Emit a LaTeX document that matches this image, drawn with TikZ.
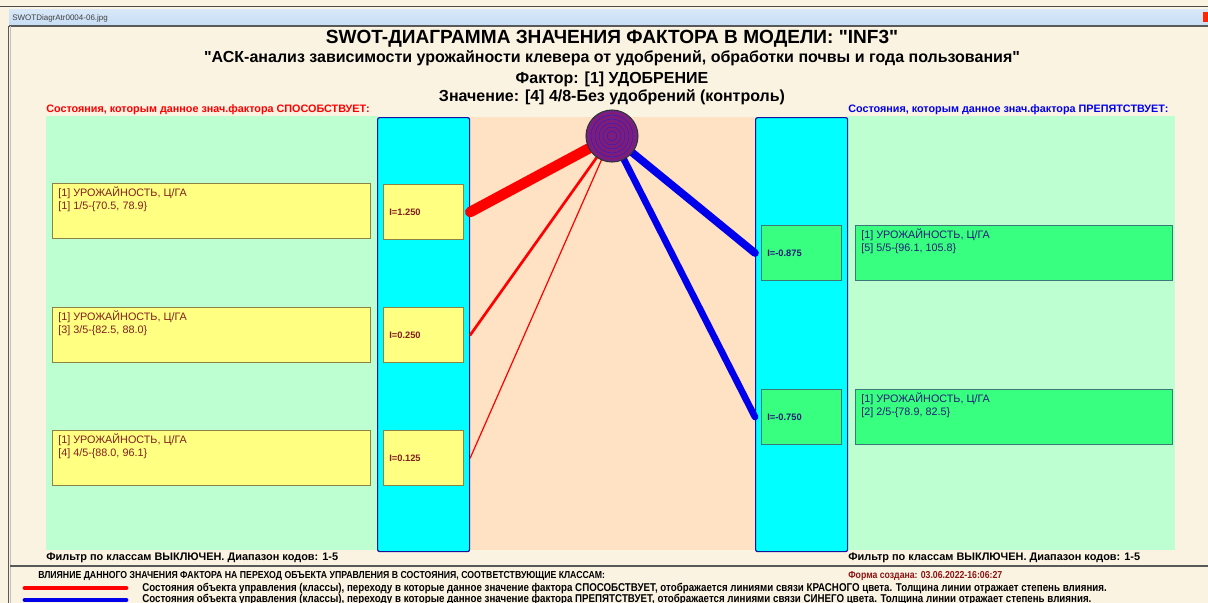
\documentclass[tikz,border=0pt]{standalone}
\usepackage{fontspec}
\setmainfont{Liberation Sans}[Ligatures=TeXOff]
\newfontfamily\narrow{Liberation Sans}[FakeStretch=0.86,Ligatures=TeXOff]
\definecolor{bgc}{RGB}{251,243,226}
\definecolor{lgreen}{RGB}{190,255,210}
\definecolor{peach}{RGB}{255,226,196}
\definecolor{cyanc}{RGB}{0,255,255}
\definecolor{colborder}{RGB}{20,20,160}
\definecolor{yfill}{RGB}{255,255,130}
\definecolor{ybord}{RGB}{140,130,70}
\definecolor{gfill}{RGB}{56,255,128}
\definecolor{gbord}{RGB}{60,120,120}
\definecolor{ytext}{RGB}{130,30,30}
\definecolor{gtext}{RGB}{30,30,120}
\definecolor{circ}{RGB}{112,34,140}
\definecolor{darkred}{RGB}{140,20,20}
\definecolor{redl}{RGB}{255,0,0}
\definecolor{bluel}{RGB}{0,0,235}
\definecolor{barblue}{RGB}{200,222,245}
\pgfdeclarelayer{under}
\pgfdeclarelayer{lines}
\pgfsetlayers{under,lines,main}
\begin{document}
\begin{tikzpicture}[x=0.75pt,y=-0.75pt,
  column/.style={draw=colborder, fill=cyanc, line width=0.9pt, rounded corners=1.5pt,
    minimum width=69pt, minimum height=325.5pt, anchor=north west, inner sep=0},
  bigy/.style={draw=ybord, fill=yfill, line width=0.8pt, minimum width=238.5pt,
    minimum height=41.5pt, anchor=north west, inner sep=0},
  smally/.style={draw=ybord, fill=yfill, line width=0.8pt, minimum width=60pt,
    minimum height=41.25pt, anchor=north west, inner sep=0},
  bigg/.style={draw=gbord, fill=gfill, line width=0.8pt, minimum width=237.75pt,
    minimum height=41.25pt, anchor=north west, inner sep=0},
  smallg/.style={draw=gbord, fill=gfill, line width=0.8pt, minimum width=60pt,
    minimum height=41.25pt, anchor=north west, inner sep=0},
  boxtxt/.style={anchor=mid west, inner sep=0, font=\fontsize{8.1}{9}\selectfont},
  itxt/.style={anchor=mid west, inner sep=0, font=\fontsize{7}{8}\selectfont\bfseries},
  headtxt/.style={anchor=mid, inner sep=0, font=\fontsize{12}{13}\selectfont\bfseries},
  redlink/.style={draw=redl, line cap=round},
  bluelink/.style={draw=bluel, line cap=round},
  smalltxt/.style={anchor=mid west, inner sep=0, font=\narrow\fontsize{7.6}{8}\selectfont\bfseries},
  legtxt/.style={anchor=mid west, inner sep=0, font=\narrow\fontsize{8.5}{9}\selectfont\bfseries},
  filttxt/.style={anchor=mid west, inner sep=0, font=\fontsize{8.2}{9}\selectfont\bfseries},
]
\useasboundingbox (0,0) rectangle (1208,603);
\begin{pgfonlayer}{under}
\fill[bgc] (0,0) rectangle (1208,603);
% panels
\fill[lgreen] (46,116) rectangle (378,550);
\fill[peach] (469,117) rectangle (755,550);
\fill[lgreen] (847,116) rectangle (1175,550);
\node[column] (colL) at (377,117) {};
\node[column] (colR) at (755,117) {};
\end{pgfonlayer}
% window chrome
\draw[gray!60!black, line width=1.2pt] (0,6.5) -- (1208,6.5);
\shade[top color=barblue!70!white, bottom color=barblue] (9,9) rectangle (1208,25);
\draw[gray!70!black, line width=1pt] (9,26) -- (1208,26);
\fill[red!70!orange] (1203,12) rectangle (1208,22);
\node[anchor=mid west, inner sep=0, font=\fontsize{6}{7}\selectfont, text=black!75] (wtitle) at (12,17) {SWOTDiagrAtr0004-06.jpg};
\draw[gray!70!black, line width=0.6pt] (8,26) -- (8,603);
\draw[gray!50, line width=0.6pt] (10.5,26) -- (10.5,603);

% titles
\node[anchor=mid, inner sep=0, font=\fontsize{14.3}{15}\selectfont\bfseries] (title) at (612,40) {SWOT-ДИАГРАММА ЗНАЧЕНИЯ ФАКТОРА В МОДЕЛИ: "INF3"};
\node[headtxt] (subtitle) at (612,59) {"АСК-анализ зависимости урожайности клевера от удобрений, обработки почвы и года пользования"};
\node[headtxt] (factor) at (612,80) {Фактор: [1] УДОБРЕНИЕ};
\node[headtxt] (value) at (612,98) {Значение: [4] 4/8-Без удобрений (контроль)};
\node[anchor=mid west, inner sep=0, font=\fontsize{8.1}{9}\selectfont\bfseries, text=redl] (lefthead) at (46,108.5) {Состояния, которым данное знач.фактора СПОСОБСТВУЕТ:};
\node[anchor=mid west, inner sep=0, font=\fontsize{8.1}{9}\selectfont\bfseries, text=bluel] (righthead) at (848,108.5) {Состояния, которым данное знач.фактора ПРЕПЯТСТВУЕТ:};

% left boxes
\node[bigy] (bL1) at (52,183) {};
\node[bigy] (bL2) at (52,307) {};
\node[bigy] (bL3) at (52,430) {};
\node[smally] (sL1) at (383,184) {};
\node[smally] (sL2) at (383,307) {};
\node[smally] (sL3) at (383,430) {};
% right boxes
\node[smallg] (sR1) at (761,225) {};
\node[smallg] (sR2) at (761,389) {};
\node[bigg] (bR1) at (855,225) {};
\node[bigg] (bR2) at (855,389) {};

% texts in boxes
\node[boxtxt, text=ytext] (tL1a) at (58,193) {[1] УРОЖАЙНОСТЬ, Ц/ГА};
\node[boxtxt, text=ytext] (tL1b) at (58,205.5) {[1] 1/5-\{70.5, 78.9\}};
\node[boxtxt, text=ytext] (tL2a) at (58,317) {[1] УРОЖАЙНОСТЬ, Ц/ГА};
\node[boxtxt, text=ytext] (tL2b) at (58,329.5) {[3] 3/5-\{82.5, 88.0\}};
\node[boxtxt, text=ytext] (tL3a) at (58,440) {[1] УРОЖАЙНОСТЬ, Ц/ГА};
\node[boxtxt, text=ytext] (tL3b) at (58,452.5) {[4] 4/5-\{88.0, 96.1\}};
\node[boxtxt, text=gtext] (tR1a) at (861,235) {[1] УРОЖАЙНОСТЬ, Ц/ГА};
\node[boxtxt, text=gtext] (tR1b) at (861,247.5) {[5] 5/5-\{96.1, 105.8\}};
\node[boxtxt, text=gtext] (tR2a) at (861,399) {[1] УРОЖАЙНОСТЬ, Ц/ГА};
\node[boxtxt, text=gtext] (tR2b) at (861,411.5) {[2] 2/5-\{78.9, 82.5\}};
\node[itxt, text=ytext] (iL1) at (389,211.5) {I=1.250};
\node[itxt, text=ytext] (iL2) at (389,334.5) {I=0.250};
\node[itxt, text=ytext] (iL3) at (389,457.5) {I=0.125};
\node[itxt, text=gtext] (iR1) at (767,253) {I=-0.875};
\node[itxt, text=gtext] (iR2) at (767,416.5) {I=-0.750};

% centre circle and links
\node[circle, draw=black!80, fill=circ, line width=0.8pt, minimum size=39pt, inner sep=0] (c) at (612,136) {};
\foreach \r in {3,7,...,23} {
  \draw[red!85!black, line width=0.35pt, opacity=0.55] (c.center) circle[radius=\r];
}
\foreach \r in {5,9,...,21} {
  \draw[blue!80!black, line width=0.35pt, opacity=0.4] (c.center) circle[radius=\r];
}
\begin{pgfonlayer}{lines}
\draw[redlink, line width=7.9pt] (c.center) -- (sL1.east -| colL.east);
\draw[redlink, line width=2pt] (c.center) -- (sL2.east -| colL.east);
\draw[redlink, line width=0.9pt] (c.center) -- (sL3.east -| colL.east);
\draw[bluelink, line width=5.8pt] (c.center) -- (sR1.west -| colR.west);
\draw[bluelink, line width=5pt] (c.center) -- (sR2.west -| colR.west);
\end{pgfonlayer}

% footer
\node[filttxt] (filtL) at (46,557) {Фильтр по классам ВЫКЛЮЧЕН. Диапазон кодов: 1-5};
\node[filttxt] (filtR) at (848,557) {Фильтр по классам ВЫКЛЮЧЕН. Диапазон кодов: 1-5};
\draw[gray!70!black, line width=0.8pt] (10,566) -- (1208,566);
\node[smalltxt] (infl) at (38,574.5) {ВЛИЯНИЕ ДАННОГО ЗНАЧЕНИЯ ФАКТОРА НА ПЕРЕХОД ОБЪЕКТА УПРАВЛЕНИЯ В СОСТОЯНИЯ, СООТВЕТСТВУЮЩИЕ КЛАССАМ:};
\node[smalltxt, text=darkred] (created) at (848,574.5) {Форма создана: 03.06.2022-16:06:27};
\coordinate (lr1) at (25,588);
\coordinate (lr2) at (126,588);
\coordinate (lb1) at (25,600);
\coordinate (lb2) at (126,600);
\draw[redlink, line width=3.6pt] (lr1) -- (lr2);
\draw[bluelink, line width=3.6pt] (lb1) -- (lb2);
\node[legtxt] (legr) at (142,587.5) {Состояния объекта управления (классы), переходу в которые данное значение фактора СПОСОБСТВУЕТ, отображается линиями связи КРАСНОГО цвета. Толщина линии отражает степень влияния.};
\node[legtxt] (legb) at (142,598.5) {Состояния объекта управления (классы), переходу в которые данное значение фактора ПРЕПЯТСТВУЕТ, отображается линиями связи СИНЕГО цвета. Толщина линии отражает степень влияния.};
\end{tikzpicture}
\end{document}
